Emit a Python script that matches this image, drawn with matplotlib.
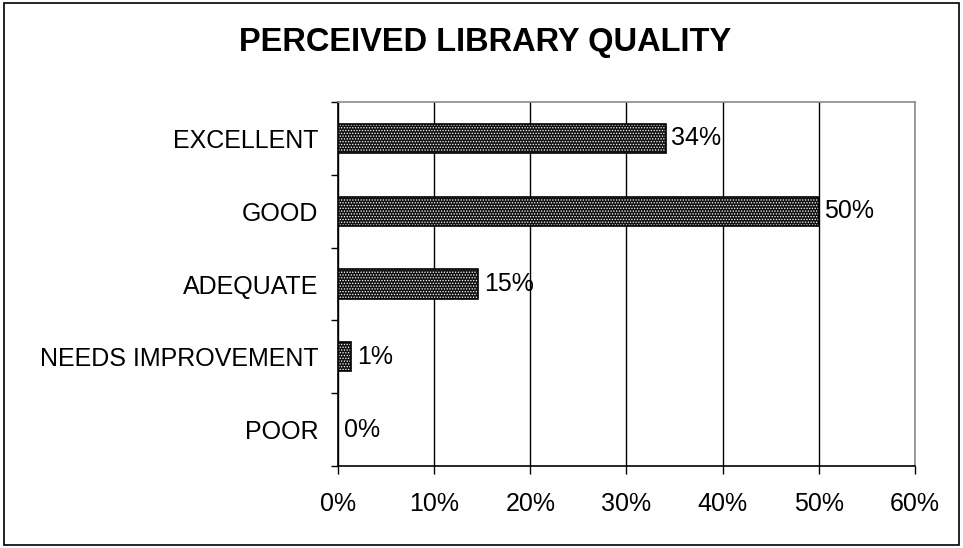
import matplotlib
matplotlib.use("Agg")
import matplotlib.pyplot as plt
from matplotlib.patches import Rectangle

# Datos
categories = ["EXCELLENT", "GOOD", "ADEQUATE", "NEEDS IMPROVEMENT", "POOR"]
values = [34.1, 50.0, 14.6, 1.4, 0.0]
value_labels = ["34%", "50%", "15%", "1%", "0%"]
xticks = [0, 10, 20, 30, 40, 50, 60]
xtick_labels = ["0%", "10%", "20%", "30%", "40%", "50%", "60%"]

plt.rcParams["font.family"] = ["Liberation Sans", "DejaVu Sans"]
plt.rcParams["hatch.linewidth"] = 0.6

fig = plt.figure(figsize=(9.63, 5.48), dpi=100)
ax = fig.add_axes([0.351, 0.1496, 0.599, 0.6643])

pos = list(range(len(categories)))

# barras con patron de puntos: fondo oscuro + puntos blancos, luego borde negro
ax.barh(pos, values, height=0.4, color="#111111", edgecolor="white",
        hatch="......", linewidth=0, zorder=3)
ax.barh(pos, values, height=0.4, fill=False, edgecolor="black",
        linewidth=1.2, zorder=4)

for p, v, lab in zip(pos, values, value_labels):
    ax.annotate(lab, (v, p), xytext=(4, 0), textcoords="offset points",
                ha="left", va="center", fontsize=18, zorder=5)

ax.set_xlim(0, 60)
ax.set_ylim(len(categories) - 0.5, -0.5)
ax.set_xticks(xticks)
ax.set_xticklabels(xtick_labels, fontsize=18)
ax.set_yticks(pos)
ax.set_yticklabels(categories, fontsize=18)

# ticks menores en los limites de cada categoria
ax.set_yticks([p - 0.5 for p in pos] + [len(categories) - 0.5], minor=True)
ax.tick_params(axis="y", which="major", length=0, pad=14)
ax.tick_params(axis="y", which="minor", length=5, width=1, direction="out")
ax.tick_params(axis="x", length=6, width=1, direction="out", pad=13)

ax.grid(axis="x", color="black", linewidth=1, zorder=1)
ax.set_axisbelow(True)

ax.spines["left"].set_color("black")
ax.spines["bottom"].set_color("black")
ax.spines["top"].set_color("#8c8c8c")
ax.spines["right"].set_color("#8c8c8c")
for s in ax.spines.values():
    s.set_linewidth(1.2)

fig.text(0.504, 0.922, "PERCEIVED LIBRARY QUALITY", ha="center", va="center",
         fontsize=23.5, fontweight="bold")

# marco exterior
fig.patches.append(Rectangle((0.004, 0.006), 0.992, 0.988, transform=fig.transFigure,
                             fill=False, edgecolor="black", linewidth=1.2))

fig.savefig("out.png", dpi=100)
